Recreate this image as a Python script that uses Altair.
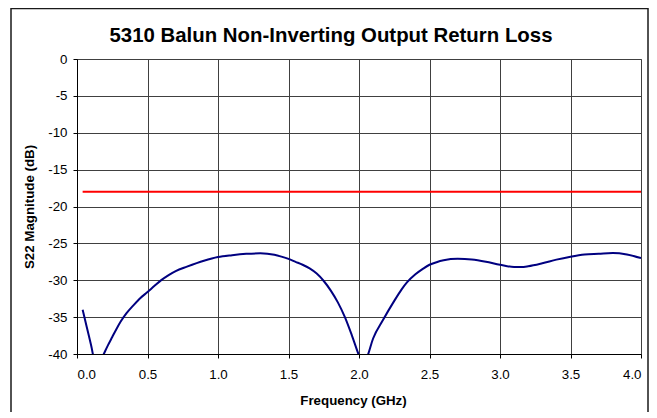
import altair as alt
import pandas as pd

# S22 return loss curve
freq_ghz = [0.04, 0.07, 0.10, 0.14, 0.19, 0.22, 0.25, 0.28, 0.31, 0.35, 0.40, 0.45, 0.50,
            0.55, 0.60, 0.65, 0.70, 0.78, 0.90, 1.00, 1.10, 1.20, 1.30, 1.35, 1.40, 1.45,
            1.50, 1.55, 1.60, 1.65, 1.70, 1.75, 1.80, 1.85, 1.90, 1.95, 2.00, 2.03, 2.06,
            2.10, 2.17, 2.25, 2.30, 2.34, 2.40, 2.45, 2.50, 2.55, 2.60, 2.70, 2.80, 2.90,
            3.00, 3.10, 3.15, 3.20, 3.30, 3.40, 3.50, 3.60, 3.70, 3.80, 3.90, 4.00]
s22_db = [-34.0, -36.4, -38.8, -42.0, -40.0, -38.8, -37.7, -36.6, -35.6, -34.5, -33.4, -32.4, -31.6,
          -30.75, -29.95, -29.3, -28.75, -28.15, -27.35, -26.85, -26.6, -26.42, -26.35, -26.4, -26.55, -26.8,
          -27.1, -27.5, -27.9, -28.4, -29.1, -30.1, -31.4, -33.0, -35.0, -37.5, -40.2, -41.5, -40.3,
          -37.9, -35.4, -32.8, -31.3, -30.3, -29.2, -28.5, -27.9, -27.55, -27.3, -27.1, -27.2, -27.5,
          -27.9, -28.2, -28.2, -28.1, -27.7, -27.2, -26.8, -26.5, -26.4, -26.3, -26.5, -27.0]

# Specification limit line
limit_freq = [0.04, 4.0]
limit_db = [-18.0, -18.0]

x_ticks = [0.0, 0.5, 1.0, 1.5, 2.0, 2.5, 3.0, 3.5, 4.0]
y_ticks = [0, -5, -10, -15, -20, -25, -30, -35, -40]

chart_title = "5310 Balun Non-Inverting Output Return Loss"

curve_df = pd.DataFrame({"f": freq_ghz, "db": s22_db})
limit_df = pd.DataFrame({"f": limit_freq, "db": limit_db})
single_df = pd.DataFrame({"t": [chart_title]})

FONT = "Liberation Sans"

x_enc = alt.X("f:Q", scale=alt.Scale(domain=[0, 4], nice=False, zero=False),
              axis=alt.Axis(values=x_ticks, format=".1f", title="Frequency (GHz)",
                            titleX=276, titlePadding=13, labelPadding=9))
y_enc = alt.Y("db:Q", scale=alt.Scale(domain=[-40, 0], nice=False, zero=False),
              axis=alt.Axis(values=y_ticks, labelExpr="datum.value + ''",
                            title="S22 Magnitude (dB)",
                            titlePadding=11, labelPadding=6))

curve = alt.Chart(curve_df).mark_line(color="#000080", strokeWidth=2, clip=True,
                                      interpolate="monotone").encode(x=x_enc, y=y_enc)
limit = alt.Chart(limit_df).mark_line(color="#FF0000", strokeWidth=2, clip=True).encode(
    x=x_enc, y=y_enc)

# outer chart-area border
frame = alt.Chart(single_df).mark_rect(fill=None, stroke="#1a1a1a", strokeWidth=1.5).encode(
    x=alt.value(-66), x2=alt.value(571), y=alt.value(-50.5), y2=alt.value(420))

title = alt.Chart(single_df).mark_text(font=FONT, fontSize=20.4, fontWeight="bold",
                                       color="#000000", align="center",
                                       baseline="alphabetic").encode(
    text="t:N", x=alt.value(254), y=alt.value(-17.5))

chart = alt.layer(curve, limit, frame, title).properties(
    width=564, height=295,
    padding={"left": 69, "top": 51, "right": 8, "bottom": 58},
    autosize=alt.AutoSizeParams(type="none"),
).configure_view(
    stroke="#808080", strokeWidth=1
).configure_axis(
    labelFont=FONT, labelFontSize=13.3, labelColor="#000000",
    titleFont=FONT, titleFontSize=13.3, titleFontWeight="bold", titleColor="#000000",
    domainColor="#000000", domainWidth=1, tickColor="#000000", tickSize=4,
    gridColor="#404040", gridWidth=1, grid=True,
)

chart.save("out.html", embed_options={"renderer": "svg", "actions": False})
